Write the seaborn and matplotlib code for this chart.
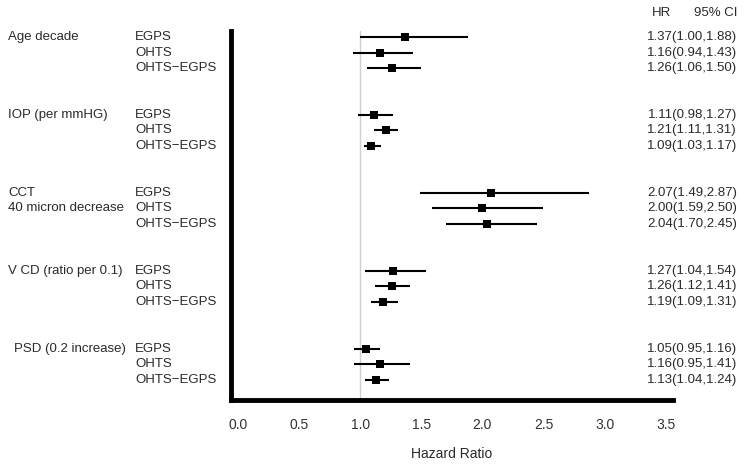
#imports
import numpy as np
import pandas as pd
import seaborn as sns
import matplotlib.pyplot as plt
from matplotlib.transforms import blended_transform_factory

#data
groups = ["Age decade", "IOP (per mmHG)", "CCT\n40 micron decrease",
          "V CD (ratio per 0.1)", "PSD (0.2 increase)"]
studies = ["EGPS", "OHTS", "OHTS\u2212EGPS"]
hr = [1.37, 1.16, 1.26, 1.11, 1.21, 1.09, 2.07, 2.00, 2.04,
      1.27, 1.26, 1.19, 1.05, 1.16, 1.13]
lo = [1.00, 0.94, 1.06, 0.98, 1.11, 1.03, 1.49, 1.59, 1.70,
      1.04, 1.12, 1.09, 0.95, 0.95, 1.04]
hi = [1.88, 1.43, 1.50, 1.27, 1.31, 1.17, 2.87, 2.50, 2.45,
      1.54, 1.41, 1.31, 1.16, 1.41, 1.24]
xticks = [0.0, 0.5, 1.0, 1.5, 2.0, 2.5, 3.0, 3.5]

#setting up dataframe
rows = []
for g in range(len(groups)):
    for s in range(len(studies)):
        k = g * 3 + s
        rows.append({"group": groups[g], "study": studies[s], "pos": g * 5 + s,
                     "hr": hr[k], "lo": lo[k], "hi": hi[k]})
df = pd.DataFrame(rows)

sns.set_style("white")
plt.rcParams['font.family'] = ['Liberation Sans', 'DejaVu Sans']
txtc = '#2a2a2a'

fig = plt.figure(figsize=(7.47, 4.67), dpi=100)
W, H = 747, 467
ax = fig.add_axes([231 / W, (H - 400) / H, (673 - 231) / W, (400 - 31) / H])

ax.axvline(1.0, color='#d0d0d0', lw=1, zorder=0)
ax.hlines(df['pos'], df['lo'], df['hi'], color='black', lw=1.5, zorder=2)
sns.scatterplot(data=df, x='hr', y='pos', marker='s', s=40, color='black',
                edgecolor='black', linewidth=0, ax=ax, zorder=3, legend=False)

ax.set_xlim(-0.057, 3.56)
ax.set_ylim(23.3, -0.38)
ax.set_yticks([])
ax.set_xticks(xticks)
ax.set_xticklabels([f"{t:.1f}" for t in xticks], fontsize=10, color='#333333')
ax.tick_params(axis='x', length=3, color='#bbbbbb', pad=10)
ax.set_xlabel("Hazard Ratio", fontsize=10, color=txtc, labelpad=11)
ax.set_ylabel("")
for side in ['top', 'right']:
    ax.spines[side].set_visible(False)
for side in ['left', 'bottom']:
    ax.spines[side].set_linewidth(3.5)
    ax.spines[side].set_color('black')

#labels in the margins
tr = blended_transform_factory(fig.transFigure, ax.transData)
for g in range(len(groups)):
    base = g * 5
    lines = groups[g].split("\n")
    gx = 14 if groups[g].startswith("PSD") else 8
    for j, ln in enumerate(lines):
        ax.text(gx / W, base + j, ln, transform=tr, ha='left', va='center',
                fontsize=9.5, color=txtc, clip_on=False)
for _, r in df.iterrows():
    ax.text(135 / W, r['pos'], r['study'], transform=tr, ha='left', va='center',
            fontsize=9.5, color=txtc, clip_on=False)
    ax.text(737 / W, r['pos'], f"{r['hr']:.2f}({r['lo']:.2f},{r['hi']:.2f})",
            transform=tr, ha='right', va='center', fontsize=9.5, color=txtc,
            clip_on=False)

fig.text(652 / W, 1 - 13 / H, "HR", ha='left', va='center', fontsize=9.5, color=txtc)
fig.text(737 / W, 1 - 13 / H, "95% CI", ha='right', va='center', fontsize=9.5, color=txtc)

plt.savefig("out.png", dpi=100)
